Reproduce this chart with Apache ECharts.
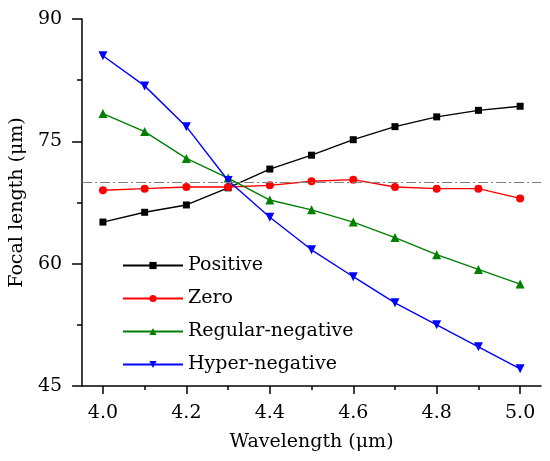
<!DOCTYPE html>
<html>
<head>
<meta charset="utf-8">
<script src="https://cdn.jsdelivr.net/npm/echarts@6/dist/echarts.min.js"></script>
<style>
html,body{margin:0;padding:0;background:#fff;}
#chart{width:550px;height:461px;}
</style>
</head>
<body>
<div id="chart"></div>
<script>
const wavelengths = [4.0, 4.1, 4.2, 4.3, 4.4, 4.5, 4.6, 4.7, 4.8, 4.9, 5.0];
const positive = [65.1, 66.3, 67.2, 69.3, 71.6, 73.3, 75.2, 76.8, 78.0, 78.8, 79.3];
const zero = [69.0, 69.2, 69.4, 69.4, 69.6, 70.1, 70.3, 69.4, 69.2, 69.2, 68.0];
const regularNegative = [78.4, 76.2, 72.9, 70.5, 67.8, 66.6, 65.1, 63.2, 61.1, 59.3, 57.5];
const hyperNegative = [85.5, 81.8, 76.8, 70.2, 65.7, 61.7, 58.4, 55.2, 52.5, 49.8, 47.1];
const referenceFocal = 70;
const xTicks = [4.0, 4.2, 4.4, 4.6, 4.8, 5.0];
const xMinorTicks = [4.1, 4.3, 4.5, 4.7, 4.9];

const FONT = 'DejaVu Serif';
const FS = 19;

function pairs(arr){ return wavelengths.map((w,i)=>[w, arr[i]]); }

const chart = echarts.init(document.getElementById('chart'), null, {renderer:'canvas'});
chart.setOption({
  animation:false,
  backgroundColor:'#fff',
  textStyle:{fontFamily:FONT, color:'#000'},
  grid:{left:82, top:19, right:9, bottom:75, containLabel:false},
  legend:{
    orient:'vertical', left:117, top:251,
    itemWidth:60, itemHeight:9, itemGap:14,
    textStyle:{fontFamily:FONT, fontSize:FS, color:'#000'},
    data:['Positive','Zero','Regular-negative','Hyper-negative']
  },
  xAxis:[{
    type:'value', min:3.95, max:5.05, interval:0.2,
    name:'Wavelength (μm)', nameLocation:'middle', nameGap:47,
    nameTextStyle:{fontFamily:FONT, fontSize:FS, color:'#000'},
    axisLine:{show:true, onZero:false, lineStyle:{color:'#000', width:1.5}},
    axisTick:{show:true, inside:false, length:8, lineStyle:{color:'#000', width:1.5},
      customValues: xTicks},
    axisLabel:{margin:18, fontFamily:FONT, fontSize:FS, color:'#000',
      customValues: xTicks,
      formatter:v=>v.toFixed(1)},
    splitLine:{show:false}
  },{
    type:'value', min:3.95, max:5.05, position:'bottom', offset:0,
    axisLine:{show:false, onZero:false},
    axisTick:{show:true, inside:false, length:4, lineStyle:{color:'#000', width:1.5},
      customValues: xMinorTicks},
    axisLabel:{show:false},
    splitLine:{show:false}
  }],
  yAxis:{
    type:'value', min:45, max:90, interval:15,
    name:'Focal length (μm)', nameLocation:'middle', nameGap:53,
    nameTextStyle:{fontFamily:FONT, fontSize:FS, color:'#000'},
    axisLine:{show:true, onZero:false, lineStyle:{color:'#000', width:1.5}},
    axisTick:{show:true, inside:false, length:10, lineStyle:{color:'#000', width:1.5}},
    minorTick:{show:true, splitNumber:2, length:5, lineStyle:{color:'#000', width:1.5}},
    axisLabel:{margin:20, fontFamily:FONT, fontSize:FS, color:'#000'},
    splitLine:{show:false}
  },
  series:[
    {name:'Positive', type:'line', data:pairs(positive), symbol:'rect', symbolSize:7,
      color:'#000', lineStyle:{width:1.4, color:'#000'}, itemStyle:{color:'#000'}},
    {name:'Zero', type:'line', data:pairs(zero), symbol:'circle', symbolSize:8,
      color:'#ff0000', lineStyle:{width:1.4, color:'#ff0000'}, itemStyle:{color:'#ff0000'},
      markLine:{silent:true, symbol:'none', label:{show:false},
        lineStyle:{color:'#808080', width:1.2, type:[10,3,2,3]},
        data:[{yAxis:referenceFocal}]}},
    {name:'Regular-negative', type:'line', data:pairs(regularNegative), symbol:'triangle', symbolSize:9,
      color:'#008000', lineStyle:{width:1.4, color:'#008000'}, itemStyle:{color:'#008000'}},
    {name:'Hyper-negative', type:'line', data:pairs(hyperNegative), symbol:'triangle', symbolRotate:180, symbolSize:9,
      color:'#0000ff', lineStyle:{width:1.4, color:'#0000ff'}, itemStyle:{color:'#0000ff'}}
  ]
});
</script>
</body>
</html>
